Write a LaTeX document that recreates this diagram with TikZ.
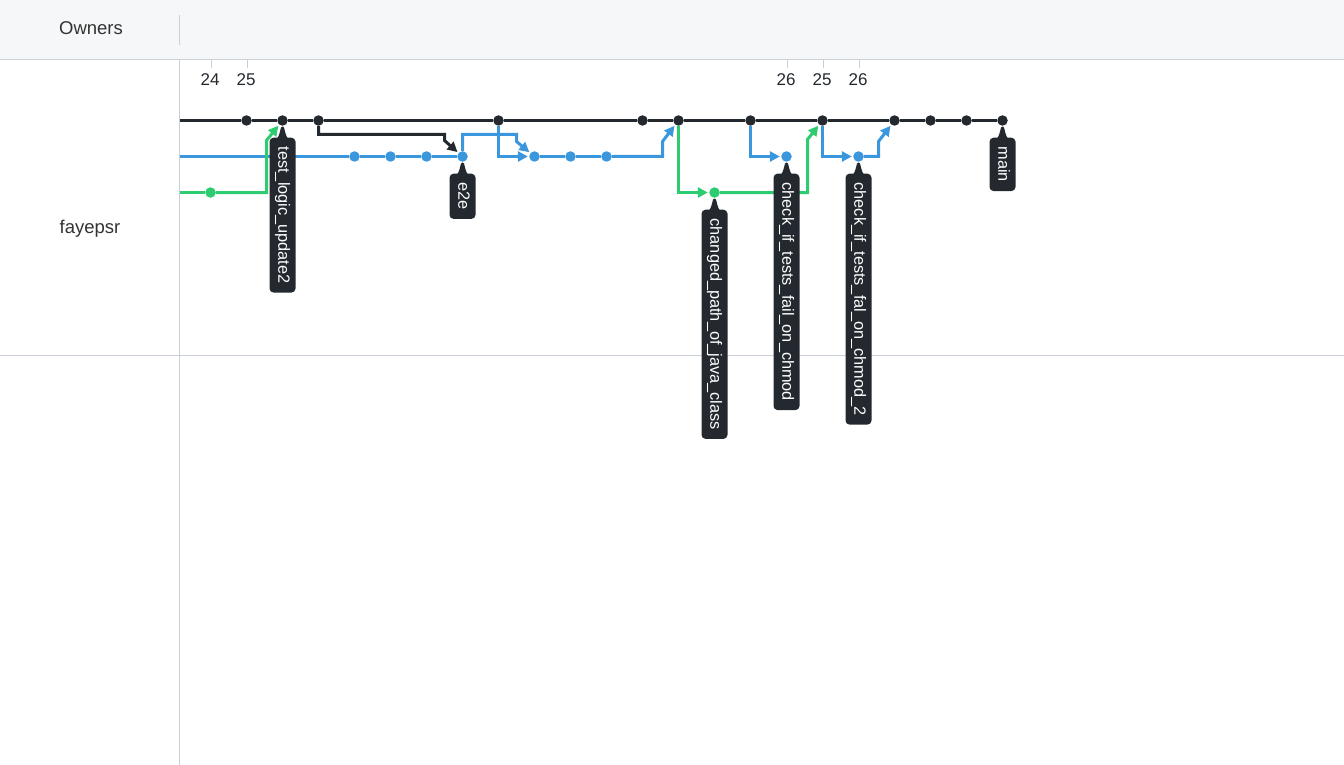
\documentclass[tikz,border=0pt]{standalone}
\usepackage{fontspec}
\setmainfont{Liberation Sans}
\usetikzlibrary{arrows.meta,calc}
\definecolor{ink}{HTML}{24292F}
\definecolor{bl}{HTML}{3A96DD}
\definecolor{gr}{HTML}{2ECC71}
\definecolor{hdr}{HTML}{F6F7F9}
\definecolor{rulec}{HTML}{C9D0D8}
\definecolor{txt}{HTML}{333333}
\newcommand\tagptr[1]{\fill[ink] ($(#1.west)+(-8,3)$) .. controls ($(#1.west)+(-4,0)$) .. ($(#1.west)+(-1.5,-10)$) -- ($(#1.west)+(0,-11)$) -- ($(#1.west)+(1.5,-10)$) .. controls ($(#1.west)+(4,0)$) .. ($(#1.west)+(8,3)$) -- cycle;}
\begin{document}
\begin{tikzpicture}[x=1pt,y=-1pt,
  dot/.style={circle,inner sep=0pt,minimum size=10.5pt,fill=#1},
  lane/.style={draw=#1,line width=3pt},
  arr/.style={draw=#1,line width=3pt,-{Triangle[length=10pt,width=10pt]},shorten >=1.2pt},
  tag/.style={rotate=-90,anchor=west,fill=ink,text=white,rounded corners=4pt,minimum height=26pt,inner xsep=9pt,inner ysep=0pt,text height=11.5pt,text depth=3pt,font=\fontsize{16.3}{16.3}\selectfont},
  hlabel/.style={text=txt,font=\fontsize{18.5}{18.5}\selectfont},
  num/.style={text=ink,font=\fontsize{17}{17}\selectfont},
  tick/.style={draw=rulec,line width=1pt},
  rul/.style={draw=rulec,line width=1pt}]
\useasboundingbox (0,0) rectangle (1344,765);
\fill[white] (0,0) rectangle (1344,765);
\fill[hdr] (0,0) rectangle (1344,59);
\draw[rul] (0,59.5) -- (1344,59.5);
\draw[rul] (179.5,15) -- (179.5,45);
\draw[rul] (179.5,59) -- (179.5,765);
\draw[rul] (0,355.5) -- (1344,355.5);
\node[hlabel] (owners) at (91,28) {Owners};
\node[hlabel] (owner1) at (90,229) {fayepsr};
% ticks
\foreach \x/\t/\n in {211/24/n1,247/25/n2,787/26/n3,823/25/n4,859/26/n5}{
  \draw[tick] (\x+0.5,60) -- (\x+0.5,68);
  \node[num] (\n) at (\x-1,80) {\t};
}
\begin{scope}[shift={(0.5,0.5)}]
% start coordinates
\coordinate (s0) at (179,120);
\coordinate (s1) at (179,156);
\coordinate (s2) at (179,192);
% black commits
\foreach \x/\n in {246/b1,282/b2,318/b3,498/b4,642/b5,678/b6,750/b7,822/b8,894/b9,930/b10,966/b11,1002/b12}
  \node[dot=ink] (\n) at (\x,120) {};
% blue commits
\foreach \x/\n in {354/u1,390/u2,426/u3,462/u4,534/u5,570/u6,606/u7,786/u8,858/u9}
  \node[dot=bl] (\n) at (\x,156) {};
% green commits
\node[dot=gr] (g1) at (210,192) {};
\node[dot=gr] (g2) at (714,192) {};
% lanes
\draw[lane=ink] (s0) -- (b1) -- (b2) -- (b3) -- (b4) -- (b5) -- (b6) -- (b7) -- (b8) -- (b9) -- (b10) -- (b11) -- (b12);
\draw[lane=bl] (s1) -- (u1) -- (u2) -- (u3) -- (u4);
\draw[lane=bl] (u5) -- (u6) -- (u7);
\draw[lane=gr] (s2) -- (g1);
% merges / branches
\draw[arr=gr] (g1) -- (266,192) -- (266,140) -- (b2);
\draw[arr=ink] (b3) -- (318,134) -- (444,134) -- (444,140) -- (u4);
\draw[arr=bl] (u4) -- (462,134) -- (516,134) -- (516,141) -- (u5);
\draw[arr=bl] (b4) |- (u5);
\draw[arr=bl] (u7) -- (662,156) -- (662,141) -- (b6);
\draw[arr=gr] (b6) |- (g2);
\draw[arr=gr] (g2) -- (807,192) -- (807,139) -- (b8);
\draw[arr=bl] (b7) |- (u8);
\draw[arr=bl] (b8) |- (u9);
\draw[arr=bl] (u9) -- (878,156) -- (878,141) -- (b9);
% tags
\node[tag] (t1) at (282,137) {test\_logic\_update2};
\node[tag] (t2) at (462,173) {e2e};
\node[tag] (t3) at (714,209) {changed\_path\_of\_java\_class};
\node[tag] (t4) at (786,173) {check\_if\_tests\_fail\_on\_chmod};
\node[tag] (t5) at (858,173) {check\_if\_tests\_fal\_on\_chmod\_2};
\node[tag] (t6) at (1002,137) {main};
\tagptr{t1}\tagptr{t2}\tagptr{t3}\tagptr{t4}\tagptr{t5}\tagptr{t6}
\end{scope}
\end{tikzpicture}
\end{document}
